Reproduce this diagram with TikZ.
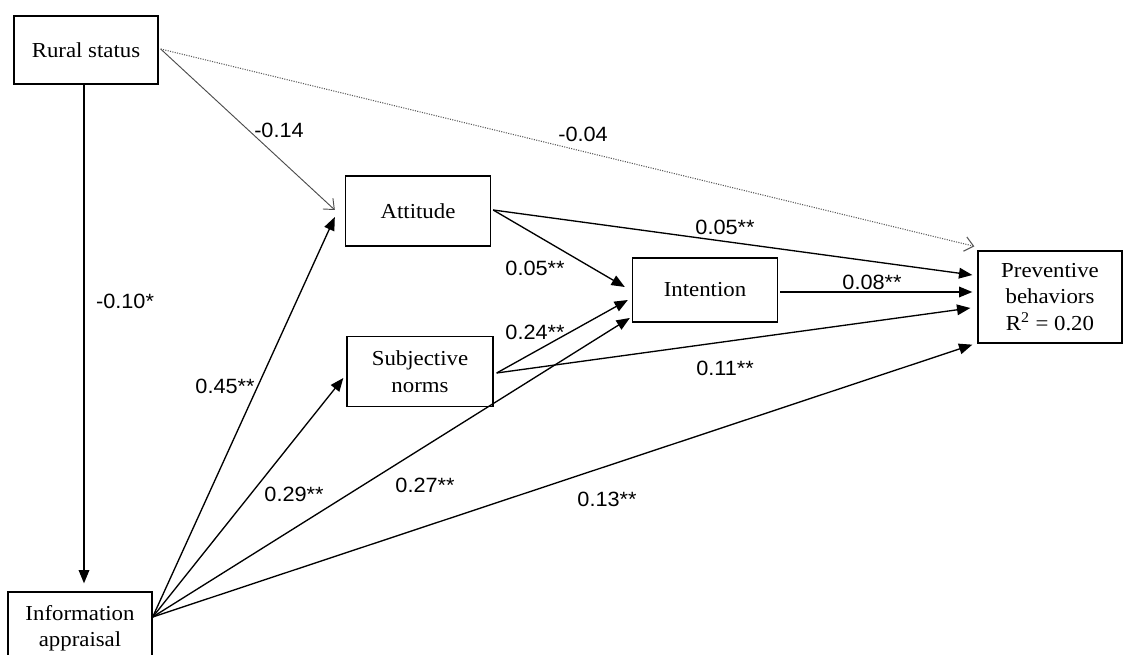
\documentclass[tikz,border=0pt]{standalone}
\usepackage{fontspec}
\setmainfont{Liberation Serif}[FakeStretch=1.07]
\newfontfamily\labfont{Liberation Sans}[FakeStretch=1.05]
\usetikzlibrary{arrows.meta,calc}
\begin{document}
\begin{tikzpicture}[x=0.75pt,y=-0.75pt,
  box/.style={draw,line width=1pt,inner sep=0pt,align=center,
    font=\fontsize{16}{20}\selectfont},
  lab/.style={font=\labfont\fontsize{15.5}{18}\selectfont,inner sep=0pt},
  conn/.style={line width=1pt,-{Triangle[length=10pt,width=8pt]}},
  thin/.style={line width=0.7pt,draw=black!70,-{Straight Barb[length=6.5pt,width=11pt]}},
  dott/.style={line width=0.8pt,draw=black!65,densely dotted,-{Straight Barb[length=6.5pt,width=11pt]}}]
\useasboundingbox (0,0) rectangle (1127,655);
\clip (0,0) rectangle (1127,655);
\node[box,minimum width=108pt,minimum height=51pt] (rur) at (86,50) {Rural status};
\node[box,minimum width=108.75pt,minimum height=52.5pt] (att) at (418,211) {Attitude};
\node[box,minimum width=109.5pt,minimum height=52.5pt] (sub) at (420,371.5) {Subjective\\norms};
\node[box,minimum width=108.75pt,minimum height=48pt] (int) at (705,290) {Intention};
\node[box,minimum width=108pt,minimum height=69pt] (prv) at (1050,297) {Preventive\\behaviors\\R\textsuperscript{2} = 0.20};
\node[box,minimum width=108pt,minimum height=51pt,text depth=0pt] (inf) at (80,626) {Information\\appraisal};
% auxiliary coordinates
\coordinate (infout) at ($(inf.east)+(0,-9)$);
\coordinate (rurout) at ($(rur.east)+(2,-1)$);
% connectors
\draw[conn] ($(rur.south)+(-2,0)$) -- ($(rur.south |- inf.north)+(-2,-8)$);
\draw[thin] (rurout) -- ($(att.west)+(-10,-1)$);
\draw[dott] (rurout) -- ($(prv.north west)+(-3,-4)$);
\draw[conn] (infout) -- ($(att.west)+(-10,6)$);
\draw[conn] (infout) -- ($(sub.west)+(-3,6.5)$);
\draw[conn] (infout) -- ($(int.west)+(-2,28)$);
\draw[conn] (infout) -- ($(prv.south west)+(-5,1)$);
\draw[conn] ($(att.east)+(2,-1)$) -- ($(int.west)+(-7,-3)$);
\draw[conn] ($(att.east)+(2,-1)$) -- ($(prv.west)+(-5,-22)$);
\draw[conn] ($(sub.east)+(3,1.5)$) -- ($(int.west)+(-4,10)$);
\draw[conn] ($(sub.east)+(3,1.5)$) -- ($(prv.west)+(-7,11)$);
\draw[conn] ($(int.east)+(2,2)$) -- ($(prv.west |- int.east)+(-5,2)$);
% labels
\node[lab] (l1) at (279,130) {-0.14};
\node[lab] (l2) at (583,134) {-0.04};
\node[lab] (l3) at (125,301) {-0.10*};
\node[lab] (l4) at (225,386) {0.45**};
\node[lab] (l5) at (294,494) {0.29**};
\node[lab] (l6) at (425,485) {0.27**};
\node[lab] (l7) at (607,499) {0.13**};
\node[lab] (l8) at (535,268) {0.05**};
\node[lab] (l9) at (535,332) {0.24**};
\node[lab] (l10) at (725,227) {0.05**};
\node[lab] (l11) at (872,282) {0.08**};
\node[lab] (l12) at (725,368) {0.11**};
\end{tikzpicture}
\end{document}
